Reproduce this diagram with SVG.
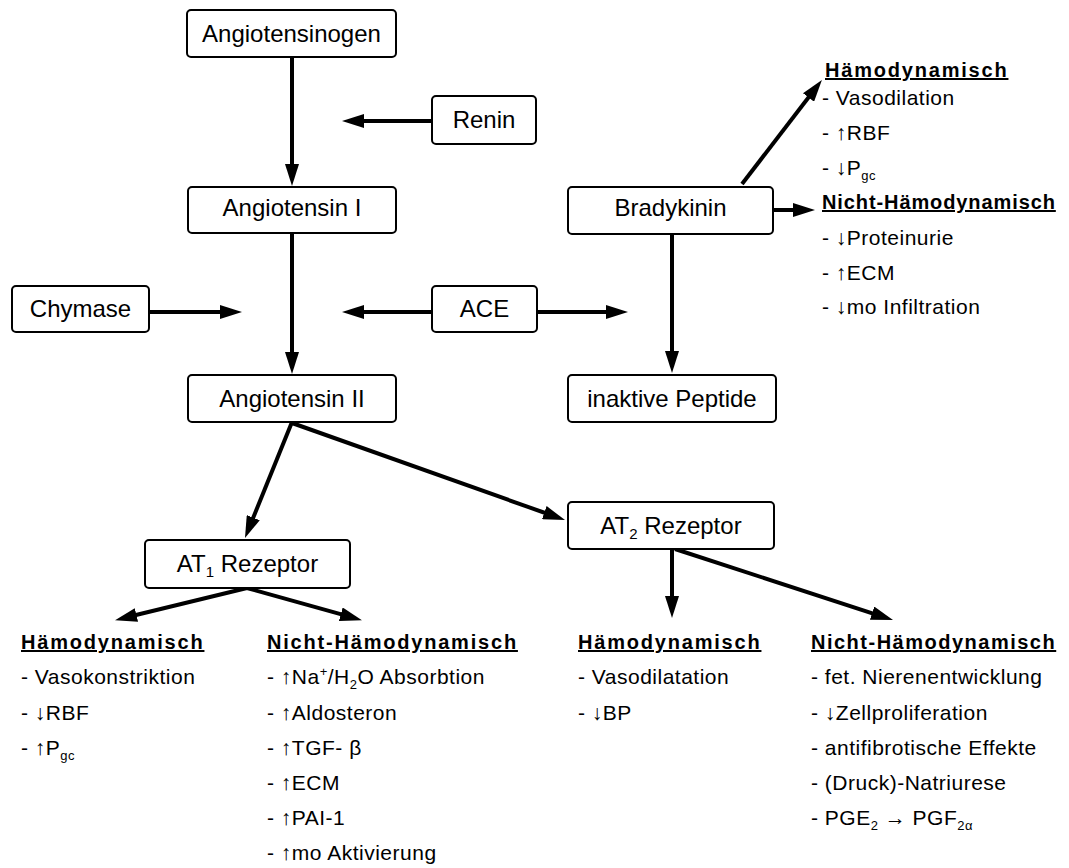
<svg xmlns="http://www.w3.org/2000/svg" width="1069" height="868" viewBox="0 0 1069 868">
<style>
.box{fill:#fff;stroke:#000;stroke-width:2}
.bt{font-family:"Liberation Sans",Arial,sans-serif;font-size:24px;text-anchor:middle;fill:#000}
.hd{font-family:"Liberation Sans",Arial,sans-serif;font-size:20px;font-weight:bold;letter-spacing:1.8px;text-decoration:underline;fill:#000}
.hn{letter-spacing:1.5px}
.it{font-family:"Liberation Sans",Arial,sans-serif;font-size:21px;letter-spacing:0.5px;fill:#000}
.ar{stroke:#000;stroke-width:4;fill:none;marker-end:url(#ah)}
</style>
<defs>
<marker id="ah" markerUnits="userSpaceOnUse" markerWidth="22" markerHeight="14" refX="10" refY="7" orient="auto">
<path d="M0,0 L22,7 L0,14 z" fill="#000"/>
</marker>
</defs>
<rect width="1069" height="868" fill="#fff"/>

<g id="connectors">
<line class="ar" x1="292" y1="57" x2="292" y2="174"/>
<line class="ar" x1="432" y1="121" x2="354" y2="121"/>
<line class="ar" x1="292" y1="233" x2="292" y2="362"/>
<line class="ar" x1="149" y1="312" x2="230" y2="312"/>
<line class="ar" x1="432" y1="312" x2="354" y2="312"/>
<line class="ar" x1="537" y1="312" x2="616" y2="312"/>
<line class="ar" x1="672" y1="234" x2="672" y2="361"/>
<line class="ar" x1="742" y1="184" x2="814.6" y2="89.5"/>
<line class="ar" x1="773" y1="210" x2="803" y2="210"/>
<line class="ar" x1="292" y1="422" x2="249.5" y2="526.9"/>
<line class="ar" x1="292" y1="423" x2="553.7" y2="516"/>
<line class="ar" x1="247" y1="588" x2="126.7" y2="617.3"/>
<line class="ar" x1="247" y1="588" x2="350.4" y2="616.9"/>
<line class="ar" x1="672" y1="549" x2="672" y2="606"/>
<line class="ar" x1="675" y1="549" x2="881.6" y2="616.3"/>
</g>

<g id="angiotensinogen"><rect class="box" x="187" y="10" width="209" height="47" rx="4"/><text class="bt" x="291.5" y="42">Angiotensinogen</text></g>
<g id="renin"><rect class="box" x="432" y="96" width="104" height="48" rx="4"/><text class="bt" x="484" y="128">Renin</text></g>
<g id="angiotensin1"><rect class="box" x="188" y="187" width="208" height="46" rx="4"/><text class="bt" x="292" y="216">Angiotensin I</text></g>
<g id="bradykinin"><rect class="box" x="568" y="187" width="205" height="47" rx="4"/><text class="bt" x="670.5" y="216">Bradykinin</text></g>
<g id="chymase"><rect class="box" x="12" y="286" width="137" height="46" rx="4"/><text class="bt" x="80.5" y="317">Chymase</text></g>
<g id="ace"><rect class="box" x="432" y="286" width="105" height="46" rx="4"/><text class="bt" x="484.5" y="317">ACE</text></g>
<g id="angiotensin2"><rect class="box" x="188" y="375" width="208" height="47" rx="4"/><text class="bt" x="292" y="407">Angiotensin II</text></g>
<g id="inaktive"><rect class="box" x="568" y="375" width="208" height="47" rx="4"/><text class="bt" x="672" y="407">inaktive Peptide</text></g>
<g id="at1"><rect class="box" x="145" y="540" width="205" height="48" rx="4"/><text class="bt" x="247.5" y="572">AT<tspan font-size="15" dy="5">1</tspan><tspan dy="-5"> Rezeptor</tspan></text></g>
<g id="at2"><rect class="box" x="568" y="502" width="206" height="47" rx="4"/><text class="bt" x="671" y="534">AT<tspan font-size="15" dy="5">2</tspan><tspan dy="-5"> Rezeptor</tspan></text></g>

<g id="brady-effects">
<text class="hd" x="825" y="77">Hämodynamisch</text>
<text class="it" x="822" y="105">- Vasodilation</text>
<text class="it" x="822" y="140">- ↑RBF</text>
<text class="it" x="822" y="175">- ↓P<tspan font-size="13" dy="5">gc</tspan></text>
<text class="hd" x="822" y="209" style="letter-spacing:0.9px">Nicht-Hämodynamisch</text>
<text class="it" x="822" y="245">- ↓Proteinurie</text>
<text class="it" x="822" y="280">- ↑ECM</text>
<text class="it" x="822" y="314">- ↓mo Infiltration</text>
</g>

<g id="at1-haemo">
<text class="hd" x="21" y="649">Hämodynamisch</text>
<text class="it" x="21" y="684">- Vasokonstriktion</text>
<text class="it" x="21" y="720">- ↓RBF</text>
<text class="it" x="21" y="755">- ↑P<tspan font-size="13" dy="5">gc</tspan></text>
</g>

<g id="at1-nichthaemo">
<text class="hd" x="267" y="649">Nicht-Hämodynamisch</text>
<text class="it" x="267" y="684">- ↑Na<tspan font-size="13" dy="-8">+</tspan><tspan dy="8">/H</tspan><tspan font-size="13" dy="5">2</tspan><tspan dy="-5">O Absorbtion</tspan></text>
<text class="it" x="267" y="720">- ↑Aldosteron</text>
<text class="it" x="267" y="755">- ↑TGF- β</text>
<text class="it" x="267" y="790">- ↑ECM</text>
<text class="it" x="267" y="825">- ↑PAI-1</text>
<text class="it" x="267" y="860">- ↑mo Aktivierung</text>
</g>

<g id="at2-haemo">
<text class="hd" x="578" y="649">Hämodynamisch</text>
<text class="it" x="578" y="684">- Vasodilatation</text>
<text class="it" x="578" y="720">- ↓BP</text>
</g>

<g id="at2-nichthaemo">
<text class="hd hn" x="811" y="649">Nicht-Hämodynamisch</text>
<text class="it" x="811" y="684">- fet. Nierenentwicklung</text>
<text class="it" x="811" y="720">- ↓Zellproliferation</text>
<text class="it" x="811" y="755">- antifibrotische Effekte</text>
<text class="it" x="811" y="790">- (Druck)-Natriurese</text>
<text class="it" x="811" y="825">- PGE<tspan font-size="13" dy="5">2</tspan><tspan dy="-5"> → PGF</tspan><tspan font-size="13" dy="5">2α</tspan></text>
</g>
</svg>
